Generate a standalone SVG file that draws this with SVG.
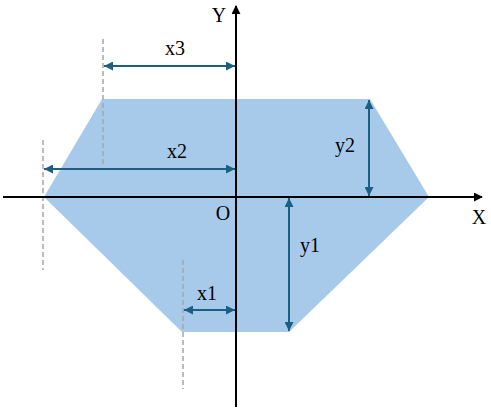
<svg xmlns="http://www.w3.org/2000/svg" width="491" height="415" viewBox="0 0 491 415">
<style>
.t{font-family:"Liberation Serif","Times New Roman",serif;font-size:20px;fill:#000;text-anchor:middle}
.dim{stroke:#1B5F82;stroke-width:2;fill:none;marker-start:url(#da);marker-end:url(#da)}
.dash{stroke:#A6A6A6;stroke-width:1.5;stroke-dasharray:5,3;fill:none}
.ax{stroke:#000;stroke-width:2;fill:none;marker-end:url(#aa)}
</style>
<defs>
<marker id="da" viewBox="0 0 10 10" refX="10" refY="5" markerWidth="4.5" markerHeight="4.5" orient="auto-start-reverse" markerUnits="strokeWidth"><path d="M0,0 L10,5 L0,10 z" fill="#1B5F82"/></marker>
<marker id="aa" viewBox="0 0 10 10" refX="9" refY="5" markerWidth="4.5" markerHeight="4.5" orient="auto" markerUnits="strokeWidth"><path d="M0,0 L10,5 L0,10 z" fill="#000"/></marker>
</defs>
<g id="shape"><polygon points="102,99 370,99 429,197 289,332 182,332 44,197" fill="#A7CAEB"/></g>
<g id="guides">
<line class="dash" x1="103" y1="39" x2="103" y2="166"/>
<line class="dash" x1="43" y1="140" x2="43" y2="270"/>
<line class="dash" x1="183" y1="260" x2="183" y2="389"/>
</g>
<g id="axes">
<line class="ax" x1="3" y1="197" x2="482" y2="197"/>
<line class="ax" x1="236" y1="407" x2="236" y2="6"/>
</g>
<g id="connectors">
<line class="dim" x1="104" y1="66" x2="235" y2="66"/>
<line class="dim" x1="44" y1="169" x2="235" y2="169"/>
<line class="dim" x1="184" y1="310" x2="235" y2="310"/>
<line class="dim" x1="369" y1="196" x2="369" y2="100"/>
<line class="dim" x1="289" y1="198" x2="289" y2="331"/>
</g>
<g id="labels">
<text class="t" x="175" y="55">x3</text>
<text class="t" x="177" y="158">x2</text>
<text class="t" x="207" y="300">x1</text>
<text class="t" x="345" y="152">y2</text>
<text class="t" x="310" y="252">y1</text>
<text class="t" x="223" y="220">O</text>
<text class="t" x="479" y="224">X</text>
<text class="t" x="219" y="22">Y</text>
</g>
</svg>
